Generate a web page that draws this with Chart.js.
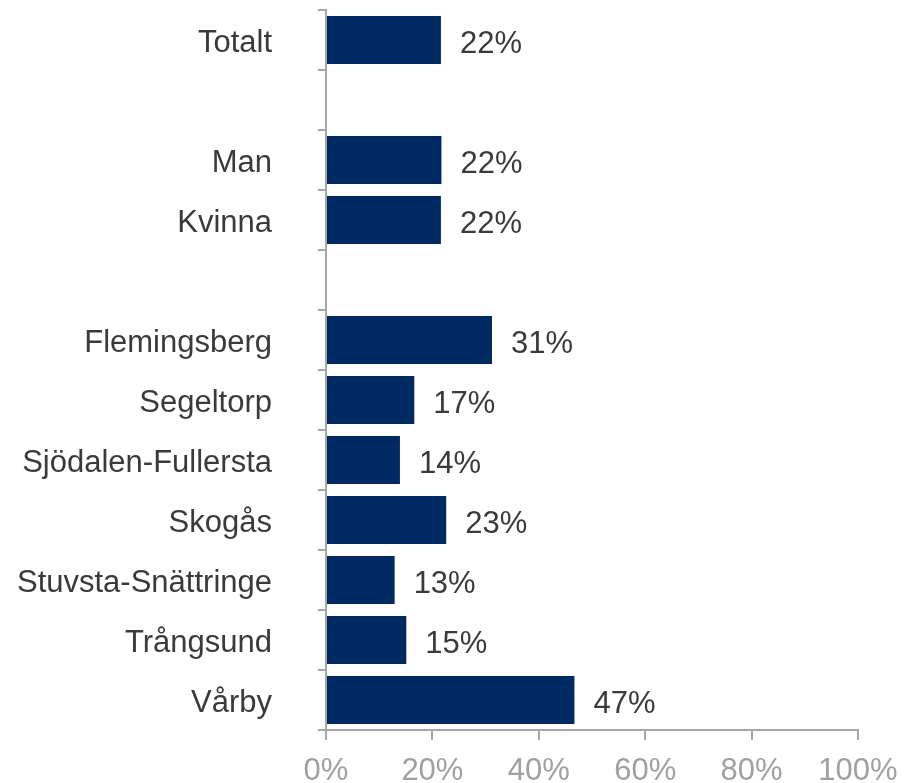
<!DOCTYPE html>
<html>
<head>
<meta charset="utf-8">
<script src="https://cdn.jsdelivr.net/npm/chart.js@4"></script>
<style>
html,body{margin:0;padding:0;background:#fff;}
#wrap{width:922px;height:783px;position:relative;}
</style>
</head>
<body>
<div id="wrap"><canvas id="c" width="922" height="783"></canvas></div>
<script>
const categories = ['Totalt', '', 'Man', 'Kvinna', '', 'Flemingsberg', 'Segeltorp', 'Sjödalen-Fullersta', 'Skogås', 'Stuvsta-Snättringe', 'Trångsund', 'Vårby'];
const values = [21.6, null, 21.7, 21.6, null, 31.2, 16.6, 13.9, 22.6, 12.9, 15.1, 46.7];
const xTicks = [0, 20, 40, 60, 80, 100];

const FONT = "'Liberation Sans', Arial, sans-serif";
const AXIS = '#a6a6a6';

const valueLabels = {
  id: 'valueLabels',
  afterDatasetsDraw(chart) {
    const ctx = chart.ctx;
    const meta = chart.getDatasetMeta(0);
    ctx.save();
    ctx.font = '31px ' + FONT;
    ctx.fillStyle = '#3a3a3a';
    ctx.textAlign = 'left';
    ctx.textBaseline = 'middle';
    meta.data.forEach((bar, i) => {
      const v = values[i];
      if (v === null || v === undefined) return;
      ctx.fillText(Math.round(v) + '%', bar.x + 19, bar.y + 4);
    });
    ctx.restore();
  }
};

const chart = new Chart(document.getElementById('c'), {
  type: 'bar',
  data: {
    labels: categories,
    datasets: [{
      data: values,
      backgroundColor: '#002a62',
      borderWidth: 0,
      categoryPercentage: 0.8,
      barPercentage: 1.0
    }]
  },
  options: {
    indexAxis: 'y',
    responsive: false,
    animation: false,
    layout: { padding: { top: 10, right: 64, bottom: 0, left: 0 } },
    plugins: { legend: { display: false }, tooltip: { enabled: false } },
    scales: {
      x: {
        min: 0, max: 100,
        afterBuildTicks(scale) { scale.ticks = xTicks.map(v => ({ value: v })); },
        afterFit(scale) { scale.height = 53; },
        ticks: {
          callback: v => v + '%',
          color: '#a0a0a0',
          font: { family: FONT, size: 31 },
          padding: 13,
          maxRotation: 0
        },
        grid: { drawOnChartArea: false, tickLength: 10, color: AXIS, lineWidth: 2 },
        border: { display: true, color: AXIS, width: 2 }
      },
      y: {
        afterFit(scale) { scale.width = 326; scale.paddingTop = 0; scale.paddingBottom = 0; },
        ticks: {
          color: '#3a3a3a',
          font: { family: FONT, size: 31 },
          padding: 46,
          labelOffset: 3,
          autoSkip: false
        },
        grid: { offset: true, drawOnChartArea: false, tickLength: 8, color: AXIS, lineWidth: 2 },
        border: { display: true, color: AXIS, width: 2 }
      }
    }
  },
  plugins: [valueLabels]
});
</script>
</body>
</html>
